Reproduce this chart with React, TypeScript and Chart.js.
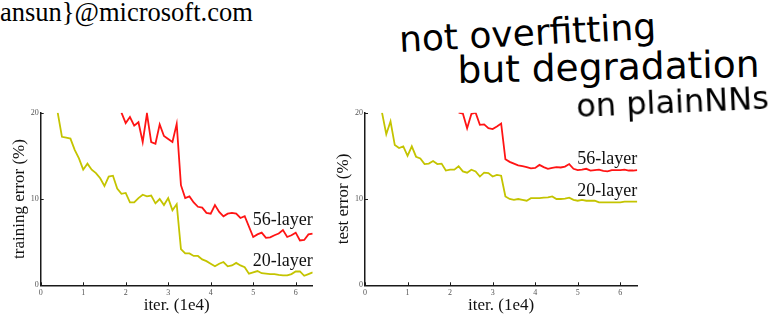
import React, { useEffect, useRef } from "react";
import { Chart, registerables } from "chart.js";

Chart.register(...registerables);

// ---------- data (iterations in units of 1e4, error in %) ----------
const ITERS_FULL = [
  0.4, 0.5, 0.6, 0.7, 0.8, 0.9, 1.0, 1.1, 1.2, 1.3, 1.4, 1.5, 1.6, 1.7, 1.8, 1.9, 2.0, 2.1, 2.2, 2.3,
  2.4, 2.5, 2.6, 2.7, 2.8, 2.9, 3.0, 3.1, 3.2, 3.3, 3.4, 3.5, 3.6, 3.7, 3.8, 3.9, 4.0, 4.1, 4.2, 4.3,
  4.4, 4.5, 4.6, 4.7, 4.8, 4.9, 5.0, 5.1, 5.2, 5.3, 5.4, 5.5, 5.6, 5.7, 5.8, 5.9, 6.0, 6.1, 6.2, 6.3, 6.4,
];

const TRAIN_20 = [
  20.0, 17.2, 17.1, 17.0, 15.7, 14.7, 13.4, 14.1, 13.4, 13.0, 12.4, 11.5, 12.6, 12.7, 11.2, 10.6, 10.7, 9.6, 9.6, 10.1,
  10.5, 10.3, 10.4, 9.5, 10.0, 9.3, 10.1, 8.7, 9.4, 4.2, 3.7, 3.7, 3.4, 3.4, 3.0, 2.8, 2.5, 2.2, 2.5, 2.7,
  2.2, 2.3, 2.6, 2.3, 2.1, 1.35, 1.5, 1.65, 1.4, 1.35, 1.3, 1.3, 1.2, 1.15, 1.15, 1.3, 1.6, 1.6, 1.1, 1.3, 1.5,
];

const ITERS_TRAIN_56 = [
  1.9, 2.0, 2.1, 2.2, 2.3, 2.4, 2.5, 2.6, 2.7, 2.8, 2.9, 3.0, 3.1, 3.2, 3.3, 3.4, 3.5, 3.6, 3.7, 3.8,
  3.9, 4.0, 4.1, 4.2, 4.3, 4.4, 4.5, 4.6, 4.7, 4.8, 5.0, 5.1, 5.2, 5.3, 5.4, 5.5, 5.6, 5.7, 5.8, 5.9,
  6.0, 6.1, 6.2, 6.3, 6.4,
];
const TRAIN_56 = [
  20.0, 18.8, 19.5, 18.5, 18.9, 16.6, 19.9, 16.6, 16.4, 18.65, 17.3, 16.95, 16.6, 18.7, 11.6, 10.1, 10.3, 9.6, 9.1, 9.0,
  8.4, 8.3, 9.3, 8.5, 8.0, 8.3, 8.4, 8.3, 7.8, 8.0, 5.6, 5.9, 6.1, 5.5, 5.55, 5.8, 6.0, 6.4, 5.6, 5.8,
  6.1, 5.2, 5.25, 5.9, 6.0,
];

const TEST_20 = [
  20.0, 17.5, 19.0, 16.25, 15.9, 16.1, 15.0, 16.1, 14.9, 14.7, 14.05, 14.1, 14.4, 14.05, 14.1, 13.3, 13.4, 13.4, 13.8, 13.2,
  13.05, 13.4, 13.2, 12.6, 13.05, 13.0, 12.6, 12.8, 12.7, 10.3, 10.0, 9.9, 10.0, 9.9, 9.8, 10.1, 10.1, 10.1, 10.15, 10.2,
  10.3, 10.0, 10.0, 10.05, 10.15, 9.9, 9.8, 9.9, 9.8, 9.8, 9.8, 9.6, 9.6, 9.6, 9.6, 9.6, 9.6, 9.7, 9.7, 9.7, 9.7,
];

const ITERS_TEST_56 = [
  2.2, 2.3, 2.4, 2.5, 2.6, 2.7, 2.8, 2.9, 3.0, 3.1, 3.2, 3.3, 3.4, 3.5, 3.6, 3.7, 3.8, 3.9, 4.0, 4.1,
  4.2, 4.3, 4.4, 4.5, 4.6, 4.7, 4.8, 4.9, 5.0, 5.1, 5.2, 5.3, 5.4, 5.5, 5.6, 5.7, 5.8, 5.9, 6.0, 6.1,
  6.2, 6.3, 6.4,
];
const TEST_56 = [
  20.0, 19.9, 18.2, 19.85, 20.0, 18.6, 18.65, 18.2, 18.1, 18.4, 18.75, 14.6, 14.3, 14.1, 13.9, 13.8, 13.7, 13.55, 13.6, 13.95,
  13.7, 13.5, 13.6, 13.7, 13.65, 13.75, 14.05, 13.5, 13.35, 13.4, 13.5, 13.3, 13.35, 13.4, 13.25, 13.2, 13.35, 13.35, 13.35, 13.4,
  13.3, 13.3, 13.35,
];

const SERIES_NAMES = ["56-layer", "20-layer"];
const X_TITLE = "iter. (1e4)";
const Y_TITLES = ["training error (%)", "test error (%)"];
const HEADER_TEXT = "ansun}@microsoft.com";
const NOTE_LINES = ["not overfitting", "but degradation", "on plainNNs"];
// y-values where the in-plot series labels sit (baseline), per panel
const LABEL_Y_TRAIN = [7.0, 2.2];
const LABEL_Y_TEST = [14.05, 10.35];

// ---------- styles ----------
const RED = "#ff1414";
const YEL = "#c4c400";
const AXIS = "#1a1a1a";
const SERIF = "'Liberation Serif', 'Times New Roman', serif";
const TICK_FONT = { family: SERIF, size: 8 };
const TICK_COLOR = "#555";

type PanelProps = {
  left: number;
  width: number;
  yAxisWidth: number;
  padRight: number;
  yTitle: string;
  xs20: number[];
  ys20: number[];
  xs56: number[];
  ys56: number[];
  labelY: number[];
  yTitleGap: number;
};

function Panel(p: PanelProps) {
  const ref = useRef<HTMLCanvasElement>(null);
  useEffect(() => {
    const decor = {
      id: "decor",
      afterDraw(chart: any) {
        const ctx = chart.ctx as CanvasRenderingContext2D;
        const area = chart.chartArea;
        const xs = chart.scales.x;
        const ys = chart.scales.y;
        ctx.save();
        // inward tick marks
        ctx.strokeStyle = AXIS;
        ctx.lineWidth = 1;
        ctx.beginPath();
        xs.ticks.forEach((t: any) => {
          const px = Math.round(xs.getPixelForValue(t.value)) + 0.5;
          ctx.moveTo(px, area.bottom);
          ctx.lineTo(px, area.bottom - 3);
        });
        ys.ticks.forEach((t: any) => {
          const py = Math.round(ys.getPixelForValue(t.value)) + 0.5;
          ctx.moveTo(area.left, py);
          ctx.lineTo(area.left + 3, py);
        });
        ctx.stroke();
        // titles
        ctx.fillStyle = "#111";
        ctx.font = `17px ${SERIF}`;
        ctx.textAlign = "center";
        ctx.textBaseline = "alphabetic";
        ctx.fillText(X_TITLE, (area.left + area.right) / 2, area.bottom + 25);
        ctx.save();
        ctx.translate(area.left - p.yTitleGap, (area.top + area.bottom) / 2);
        ctx.rotate(-Math.PI / 2);
        ctx.fillText(p.yTitle, 0, 0);
        ctx.restore();
        // series labels
        ctx.font = `18px ${SERIF}`;
        ctx.textAlign = "right";
        SERIES_NAMES.forEach((name, i) => {
          ctx.fillText(name, area.right, ys.getPixelForValue(p.labelY[i]));
        });
        ctx.restore();
      },
    };

    const chart = new Chart(ref.current as HTMLCanvasElement, {
      type: "line",
      data: {
        datasets: [
          {
            label: SERIES_NAMES[0],
            data: p.xs56.map((x, i) => ({ x, y: p.ys56[i] })),
            borderColor: RED,
            borderWidth: 1.8,
            pointRadius: 0,
            tension: 0,
            fill: false,
          },
          {
            label: SERIES_NAMES[1],
            data: p.xs20.map((x, i) => ({ x, y: p.ys20[i] })),
            borderColor: YEL,
            borderWidth: 1.8,
            pointRadius: 0,
            tension: 0,
            fill: false,
          },
        ],
      },
      options: {
        responsive: false,
        animation: false,
        devicePixelRatio: 1,
        layout: { padding: { top: 12.7, right: p.padRight, bottom: 0, left: 0 } },
        plugins: { legend: { display: false }, tooltip: { enabled: false } },
        scales: {
          x: {
            type: "linear",
            min: 0,
            max: 6.4,
            ticks: {
              stepSize: 1,
              includeBounds: false,
              font: TICK_FONT,
              color: TICK_COLOR,
              padding: 3,
              maxRotation: 0,
              autoSkip: false,
            },
            grid: { display: false, drawTicks: false },
            border: { display: true, color: AXIS, width: 1.5 },
            afterFit: (s: any) => {
              s.height = 30.7;
            },
          },
          y: {
            type: "linear",
            min: 0,
            max: 20,
            ticks: {
              stepSize: 10,
              includeBounds: false,
              font: TICK_FONT,
              color: TICK_COLOR,
              padding: 2,
            },
            grid: { display: false, drawTicks: false },
            border: { display: true, color: AXIS, width: 1.5 },
            afterFit: (s: any) => {
              s.width = p.yAxisWidth;
            },
          },
        },
      } as any,
      plugins: [decor],
    });
    return () => chart.destroy();
  }, []);
  return (
    <canvas
      ref={ref}
      width={p.width}
      height={216}
      style={{ position: "absolute", left: p.left, top: 100, width: p.width, height: 216 }}
    />
  );
}

const hand: React.CSSProperties = {
  position: "absolute",
  fontFamily: "'DejaVu Sans', sans-serif",
  color: "#000",
  whiteSpace: "nowrap",
  lineHeight: 1,
  transformOrigin: "0 100%",
  zIndex: 2,
};

export default function App() {
  return (
    <div style={{ position: "absolute", left: 0, top: 0, width: 784, height: 316, background: "#fff", overflow: "hidden" }}>
      <div
        style={{
          position: "absolute",
          left: 0,
          top: -1,
          fontFamily: SERIF,
          fontSize: 26.5,
          lineHeight: "26px",
          color: "#000",
          whiteSpace: "nowrap",
        }}
      >
        {HEADER_TEXT}
      </div>
      <Panel
        left={0}
        width={330}
        yAxisWidth={40.7}
        padRight={17.3}
        yTitle={Y_TITLES[0]}
        xs20={ITERS_FULL}
        ys20={TRAIN_20}
        xs56={ITERS_TRAIN_56}
        ys56={TRAIN_56}
        labelY={LABEL_Y_TRAIN}
        yTitleGap={17}
      />
      <Panel
        left={330}
        width={330}
        yAxisWidth={35}
        padRight={22.7}
        yTitle={Y_TITLES[1]}
        xs20={ITERS_FULL}
        ys20={TEST_20}
        xs56={ITERS_TEST_56}
        ys56={TEST_56}
        labelY={LABEL_Y_TEST}
        yTitleGap={17}
      />
      <div style={{ ...hand, left: 400, top: 22, fontSize: 36, transform: "rotate(-3deg)" }}>{NOTE_LINES[0]}</div>
      <div style={{ ...hand, left: 458, top: 52, fontSize: 37.5, transform: "rotate(-1.2deg)" }}>{NOTE_LINES[1]}</div>
      <div style={{ ...hand, left: 577, top: 90, fontSize: 32, transform: "rotate(-2.5deg)" }}>{NOTE_LINES[2]}</div>
    </div>
  );
}
